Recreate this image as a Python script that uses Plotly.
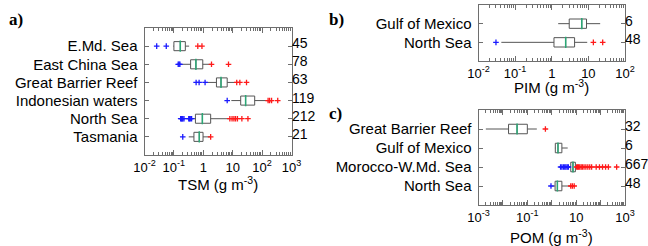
import plotly.graph_objects as go

# ---------------- data ----------------
# Panel a: TSM
cats_a = ["E.Md. Sea", "East China Sea", "Great Barrier Reef", "Indonesian waters", "North Sea", "Tasmania"]
n_a = [45, 78, 63, 119, 212, 21]
q1_a = [0.10, 0.37, 2.8, 18.7, 0.54, 0.48]
med_a = [0.165, 0.56, 4.0, 27.5, 0.93, 0.73]
q3_a = [0.245, 0.96, 6.5, 56, 1.78, 0.98]
lo_a = [0.095, 0.17, 1.2, 9.0, 0.40, 0.32]
hi_a = [0.33, 1.86, 12.6, 150, 7.5, 1.74]
outlo_a = [[0.026, 0.055], [0.14, 0.15, 0.16], [0.57, 0.72, 1.15], [6.5],
           [0.17, 0.18, 0.19, 0.20, 0.22, 0.32, 0.34, 0.36, 0.40], [0.2]]
outhi_a = [[0.65, 0.90], [1.9, 7.2], [13.7, 17.5, 29.5], [160, 180, 210, 340],
           [8.0, 9.5, 11, 12.5, 14.5, 20.5, 33], [1.78]]

# Panel b: PIM
cats_b = ["Gulf of Mexico", "North Sea"]
n_b = [6, 48]
q1_b = [3.0, 1.15]
med_b = [6.6, 2.4]
q3_b = [8.9, 4.2]
lo_b = [1.5, 0.042]
hi_b = [21, 9.3]
outlo_b = [[], [0.030]]
outhi_b = [[], [13.7, 24.6]]

# Panel c: POM
cats_c = ["Great Barrier Reef", "Gulf of Mexico", "Morocco-W.Md. Sea", "North Sea"]
n_c = [32, 6, 667, 48]
q1_c = [0.017, 1.4, 6.0, 1.37]
med_c = [0.038, 1.8, 7.4, 1.7]
q3_c = [0.10, 2.6, 9.3, 2.6]
lo_c = [0.002, 1.35, 5.0, 1.05]
hi_c = [0.245, 4.5, 9.8, 5.6]
outlo_c = [[], [], [2.3, 2.6, 3.0, 3.4, 3.8, 4.3, 4.8], [0.93]]
outhi_c = [[0.55], [], [10.5, 11.5, 12.5, 14, 16, 18, 21, 25, 30, 36, 43, 66, 90, 120, 160, 209, 455],
           [6.0, 7.0, 8.3]]

# tick labels
tickvals_a = [0.01, 0.1, 1, 10, 100, 1000]
ticktext_a = ["10<sup>-2</sup>", "10<sup>-1</sup>", "1", "10", "10<sup>2</sup>", "10<sup>3</sup>"]
tickvals_b = [0.01, 0.1, 1, 10, 100]
ticktext_b = ["10<sup>-2</sup>", "10<sup>-1</sup>", "1", "10", "10<sup>2</sup>"]
tickvals_c = [0.001, 0.01, 0.1, 1, 10, 100, 1000]
ticktext_c = ["10<sup>-3</sup>", "", "10<sup>-1</sup>", "", "10", "", "10<sup>3</sup>"]

titles = ["TSM (g m<sup>-3</sup>)", "PIM (g m<sup>-3</sup>)", "POM (g m<sup>-3</sup>)"]
panel_labels = ["a)", "b)", "c)"]

# ---------------- figure ----------------
W, H = 648, 246
FONT = "Liberation Sans, Arial, sans-serif"
LINE = "#6e6e6e"
BOXLINE = "#555555"
MEDIAN = "#2aa876"

fig = go.Figure()

panels = [
    (cats_a, n_a, q1_a, med_a, q3_a, lo_a, hi_a, outlo_a, outhi_a, "x", "y"),
    (cats_b, n_b, q1_b, med_b, q3_b, lo_b, hi_b, outlo_b, outhi_b, "x2", "y2"),
    (cats_c, n_c, q1_c, med_c, q3_c, lo_c, hi_c, outlo_c, outhi_c, "x3", "y3"),
]

for cats, ns, q1, med, q3, lo, hi, olo, ohi, xa, ya in panels:
    fig.add_trace(go.Box(
        y=cats, q1=q1, median=med, q3=q3, lowerfence=lo, upperfence=hi,
        orientation="h", xaxis=xa, yaxis=ya, width=0.5, whiskerwidth=0,
        fillcolor="white", line=dict(color=BOXLINE, width=1), boxpoints=False,
        showlegend=False, hoverinfo="skip"))
    fig.add_trace(go.Scatter(
        x=med, y=cats, mode="markers", xaxis=xa, yaxis=ya,
        marker=dict(symbol="line-ns", size=8, line=dict(color=MEDIAN, width=1.5)),
        showlegend=False, hoverinfo="skip"))
    lx, ly, hx, hy = [], [], [], []
    for c, lv, hv in zip(cats, olo, ohi):
        lx += lv; ly += [c] * len(lv)
        hx += hv; hy += [c] * len(hv)
    fig.add_trace(go.Scatter(
        x=lx, y=ly, mode="markers", xaxis=xa, yaxis=ya,
        marker=dict(symbol="cross-thin", size=4, line=dict(color="#1a1aff", width=1.3)),
        showlegend=False, hoverinfo="skip"))
    fig.add_trace(go.Scatter(
        x=hx, y=hy, mode="markers", xaxis=xa, yaxis=ya,
        marker=dict(symbol="cross-thin", size=4, line=dict(color="#ff1a1a", width=1.3)),
        showlegend=False, hoverinfo="skip"))

def px_x(a, b):
    return [a / W, b / W]

def px_y(top, bottom):
    return [1 - bottom / H, 1 - top / H]

def xaxis_cfg(dom, anchor, rng, tv, tt):
    return dict(
        type="log", domain=dom, anchor=anchor, range=rng, automargin=False,
        tickmode="array", tickvals=tv, ticktext=tt,
        ticks="inside", ticklen=5, tickcolor=LINE, tickwidth=1,
        minor=dict(ticks="inside", ticklen=3, tickcolor=LINE, dtick="D1", showgrid=False),
        showline=True, linecolor=LINE, linewidth=1, mirror="allticks",
        showgrid=False, zeroline=False,
        tickfont=dict(family=FONT, size=13, color="black"))

def yaxis_cfg(dom, anchor, cats):
    n = len(cats)
    return dict(
        type="category", domain=dom, anchor=anchor, automargin=False,
        categoryorder="array", categoryarray=cats, range=[n, -1],
        ticks="inside", ticklen=4, tickcolor=LINE,
        showline=True, linecolor=LINE, linewidth=1, mirror="allticks",
        showgrid=False, zeroline=False, ticklabelstandoff=3,
        tickfont=dict(family=FONT, size=15, color="black"))

fig.update_layout(
    template="none",
    width=W, height=H, margin=dict(l=0, r=0, t=0, b=0, autoexpand=False),
    paper_bgcolor="white", plot_bgcolor="white",
    font=dict(family=FONT, color="black"),
    xaxis=xaxis_cfg(px_x(144.5, 291.5), "y", [-2, 3], tickvals_a, ticktext_a),
    yaxis=yaxis_cfg(px_y(28, 155), "x", cats_a),
    xaxis2=xaxis_cfg(px_x(478.5, 625), "y2", [-2, 2], tickvals_b, ticktext_b),
    yaxis2=yaxis_cfg(px_y(5, 61), "x2", cats_b),
    xaxis3=xaxis_cfg(px_x(478.5, 625), "y3", [-3, 3], tickvals_c, ticktext_c),
    yaxis3=yaxis_cfg(px_y(110, 205), "x3", cats_c),
)

annotations = []
for (cats, ns, *_rest), xr, yr in zip(panels, ["x domain", "x2 domain", "x3 domain"], ["y", "y2", "y3"]):
    for c, nv in zip(cats, ns):
        annotations.append(dict(
            x=1, xref=xr, y=c, yref=yr, text=str(nv), showarrow=False,
            xanchor="left", yanchor="middle", xshift=-2, yshift=3,
            font=dict(family=FONT, size=14, color="black")))

title_pos = [("x domain", 1 - 183 / H), ("x2 domain", 1 - 86 / H), ("x3 domain", 1 - 236 / H)]
for t, (xr, yv) in zip(titles, title_pos):
    annotations.append(dict(
        x=0.5, xref=xr, y=yv, yref="paper", text=t, showarrow=False,
        xanchor="center", yanchor="middle",
        font=dict(family=FONT, size=15, color="black")))

label_pos = [(7 / W, 1 - 19 / H), (327 / W, 1 - 19 / H), (327 / W, 1 - 114 / H)]
for t, (xv, yv) in zip(panel_labels, label_pos):
    annotations.append(dict(
        x=xv, xref="paper", y=yv, yref="paper", text="<b>" + t + "</b>",
        showarrow=False, xanchor="left", yanchor="middle",
        font=dict(family="Liberation Serif, Times New Roman, serif", size=17, color="black")))

fig.update_layout(annotations=annotations)
fig.write_html("out.html", config={"displayModeBar": False},
               post_script="document.body.style.margin='0';document.body.style.overflow='hidden';")
